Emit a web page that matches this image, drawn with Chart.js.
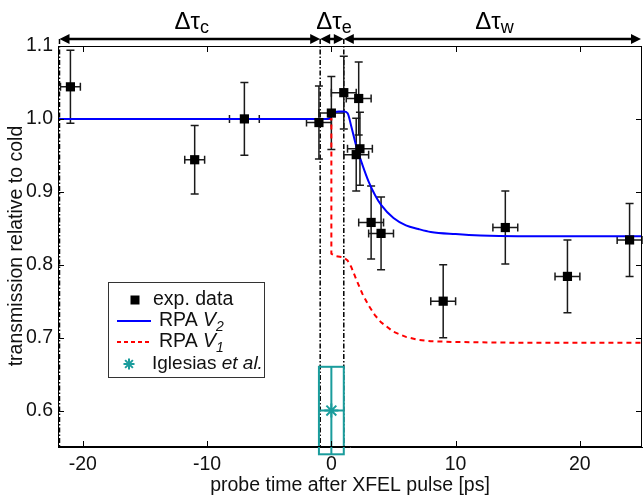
<!DOCTYPE html>
<html>
<head>
<meta charset="utf-8">
<script src="https://cdn.jsdelivr.net/npm/chart.js@4.4.1/dist/chart.umd.min.js"></script>
<style>
html, body { margin: 0; padding: 0; background: #fff; overflow: hidden; }
#chart { display: block; }
</style>
</head>
<body>
<canvas id="chart" width="644" height="498"></canvas>
<script>
// dati sperimentali: tempo [ps], trasmissione, errori
const expTime      = [-21, -11, -7, -1, 0, 1.0, 2.2, 2.3, 2.0, 3.2, 4.0, 9, 14, 19, 24];
const expTrans     = [1.044, 0.944, 1.0, 0.995, 1.008, 1.036, 1.028, 0.959, 0.951, 0.858, 0.843, 0.75, 0.851, 0.784, 0.834];
const expTimeErr   = [0.8, 0.8, 1.2, 1.0, 1.0, 1.0, 1.0, 1.0, 1.0, 1.0, 1.0, 1.0, 1.0, 1.0, 1.0];
const expTransErr  = [0.05, 0.047, 0.05, 0.05, 0.05, 0.05, 0.05, 0.05, 0.05, 0.05, 0.05, 0.05, 0.05, 0.05, 0.05];

// curva RPA V2 (blu)
const rpaV2Time  = [-22, -0.3, 0, 0.3, 0.6, 1.0, 1.3, 1.6, 2.0, 2.5, 3.0, 3.5, 4.0, 5.0, 6.0, 7.0, 8.0, 10, 12, 15, 20, 25];
const rpaV2Trans = [1.0, 1.0, 1.004, 1.009, 1.01, 1.01, 1.008, 0.99, 0.963, 0.937, 0.914, 0.896, 0.882, 0.864, 0.854, 0.849, 0.845, 0.842, 0.84, 0.839, 0.839, 0.839];

// curva RPA V1 (rossa tratteggiata)
const rpaV1Time  = [-22, 0, 0, 0.3, 1.0, 1.3, 1.6, 2.0, 2.5, 3.0, 3.5, 4.0, 5.0, 6.0, 7.0, 8.0, 10, 15, 25];
const rpaV1Trans = [1.0, 1.0, 0.815, 0.812, 0.81, 0.806, 0.797, 0.78, 0.76, 0.744, 0.731, 0.721, 0.708, 0.701, 0.697, 0.695, 0.694, 0.693, 0.693];

// Iglesias et al.
const iglTime = [0];
const iglTrans = [0.6];
const iglTimeErr = [1.0];
const iglTransErr = [0.06];

const xTicks = [-20, -10, 0, 10, 20];
const yTicks = [0.6, 0.7, 0.8, 0.9, 1.0, 1.1];

// confini delle fasi (linee tratto-punto) e nomi
const phaseBounds = [-22, -0.9, 1.0, 25];
const phaseSubs = ['c', 'e', 'w'];

const FONT = '"Liberation Sans", Arial, Helvetica, sans-serif';
const TEAL = '#1a9c9c';
const noPad = () => ({left: 0, top: 0, right: 0, bottom: 0});

function toXY(xs, ys) {
    return xs.map((v, i) => ({x: v, y: ys[i]}));
}

// barre d'errore e box Iglesias
const errorBars = {
    id: 'errorBars',
    beforeDatasetsDraw(chart) {
        const {ctx, scales: {x, y}, chartArea} = chart;
        ctx.save();
        // linee verticali tratto-punto
        ctx.strokeStyle = '#000';
        ctx.lineWidth = 1.5;
        ctx.setLineDash([5, 2, 1.5, 2]);
        phaseBounds.forEach((b) => {
            let px = x.getPixelForValue(b);
            if (b === phaseBounds[0]) px += 1.5;
            if (b === phaseBounds[phaseBounds.length - 1]) return;
            ctx.beginPath();
            ctx.moveTo(px, 39);
            ctx.lineTo(px, chartArea.bottom);
            ctx.stroke();
        });
        ctx.setLineDash([]);

        ctx.strokeStyle = '#1a1a1a';
        ctx.lineWidth = 1.5;
        expTime.forEach((t, i) => {
            const px = x.getPixelForValue(t);
            const py = y.getPixelForValue(expTrans[i]);
            const x0 = x.getPixelForValue(t - expTimeErr[i]);
            const x1 = x.getPixelForValue(t + expTimeErr[i]);
            const y0 = y.getPixelForValue(expTrans[i] - expTransErr[i]);
            const y1 = y.getPixelForValue(expTrans[i] + expTransErr[i]);
            ctx.beginPath();
            ctx.moveTo(px, y0); ctx.lineTo(px, y1);
            ctx.moveTo(px - 4, y0); ctx.lineTo(px + 4, y0);
            ctx.moveTo(px - 4, y1); ctx.lineTo(px + 4, y1);
            ctx.moveTo(x0, py); ctx.lineTo(x1, py);
            ctx.moveTo(x0, py - 4); ctx.lineTo(x0, py + 4);
            ctx.moveTo(x1, py - 4); ctx.lineTo(x1, py + 4);
            ctx.stroke();
        });

        // box Iglesias
        ctx.strokeStyle = TEAL;
        ctx.lineWidth = 2;
        iglTime.forEach((t, i) => {
            const x0 = x.getPixelForValue(t - iglTimeErr[i]);
            const x1 = x.getPixelForValue(t + iglTimeErr[i]);
            const y0 = y.getPixelForValue(iglTrans[i] - iglTransErr[i]);
            const y1 = y.getPixelForValue(iglTrans[i] + iglTransErr[i]);
            const px = x.getPixelForValue(t);
            const py = y.getPixelForValue(iglTrans[i]);
            ctx.strokeRect(x0, y1, x1 - x0, y0 - y1);
            ctx.beginPath();
            ctx.moveTo(px, y0); ctx.lineTo(px, y1);
            ctx.moveTo(x0, py); ctx.lineTo(x1, py);
            ctx.stroke();
        });
        ctx.restore();
    }
};

function arrowHead(ctx, x, y, dir) {
    // dir = +1 punta a destra, -1 a sinistra
    ctx.beginPath();
    ctx.moveTo(x, y);
    ctx.lineTo(x - dir * 10, y - 5);
    ctx.lineTo(x - dir * 10, y + 5);
    ctx.closePath();
    ctx.fill();
}

// cornice, tacche interne, frecce, titoli, legenda
const decorations = {
    id: 'decorations',
    afterDraw(chart) {
        const {ctx, scales: {x, y}, chartArea: a} = chart;
        ctx.save();
        ctx.strokeStyle = '#000';
        ctx.lineWidth = 1;
        ctx.strokeRect(a.left + 0.5, a.top + 0.5, a.width - 1, a.height - 1);
        ctx.beginPath();
        xTicks.forEach((v) => {
            const px = Math.round(x.getPixelForValue(v)) + 0.5;
            ctx.moveTo(px, a.bottom); ctx.lineTo(px, a.bottom - 6);
            ctx.moveTo(px, a.top); ctx.lineTo(px, a.top + 6);
        });
        yTicks.forEach((v) => {
            const py = Math.round(y.getPixelForValue(v)) + 0.5;
            ctx.moveTo(a.left, py); ctx.lineTo(a.left + 6, py);
            ctx.moveTo(a.right, py); ctx.lineTo(a.right - 6, py);
        });
        ctx.stroke();

        // frecce delle fasi
        const ay = 39;
        ctx.fillStyle = '#000';
        ctx.lineWidth = 2.5;
        for (let i = 0; i < phaseSubs.length; i++) {
            const l = x.getPixelForValue(phaseBounds[i]) + (i === 0 ? 1.5 : 0);
            const r = x.getPixelForValue(phaseBounds[i + 1]) - (i === phaseSubs.length - 1 ? 1 : 0);
            ctx.beginPath();
            ctx.moveTo(l + 6, ay); ctx.lineTo(r - 6, ay);
            ctx.stroke();
            arrowHead(ctx, l, ay, -1);
            arrowHead(ctx, r, ay, 1);

            const big = '24px ' + FONT, small = '18px ' + FONT;
            ctx.font = big;
            const w1 = ctx.measureText('\u0394\u03c4').width;
            ctx.font = small;
            const w2 = ctx.measureText(phaseSubs[i]).width;
            const cx = (l + r) / 2 + 2;
            const sx = cx - (w1 + w2) / 2;
            ctx.textBaseline = 'alphabetic';
            ctx.textAlign = 'left';
            ctx.font = big;
            ctx.fillText('\u0394\u03c4', sx, 29);
            ctx.font = small;
            ctx.fillText(phaseSubs[i], sx + w1, 33);
        }

        // titoli degli assi
        ctx.fillStyle = '#111';
        ctx.font = '19.5px ' + FONT;
        ctx.textAlign = 'center';
        ctx.textBaseline = 'middle';
        ctx.fillText('probe time after XFEL pulse [ps]', 350, 486);
        ctx.save();
        ctx.translate(17, 246);
        ctx.rotate(-Math.PI / 2);
        ctx.fillText('transmission relative to cold', 0, 0);
        ctx.restore();

        // legenda
        const lx = 108, ly = 282, lw = 156, lh = 95;
        ctx.fillStyle = '#fff';
        ctx.fillRect(lx, ly, lw, lh);
        ctx.strokeStyle = '#333';
        ctx.lineWidth = 1;
        ctx.strokeRect(lx + 0.5, ly + 0.5, lw, lh);
        const rows = [300, 321, 342, 364];
        ctx.fillStyle = '#000';
        ctx.fillRect(130.5, rows[0] - 4.5, 9, 9);
        ctx.strokeStyle = '#0000ff';
        ctx.lineWidth = 2;
        ctx.beginPath(); ctx.moveTo(117, rows[1]); ctx.lineTo(151, rows[1]); ctx.stroke();
        ctx.strokeStyle = '#ff0000';
        ctx.setLineDash([4, 3]);
        ctx.beginPath(); ctx.moveTo(117, rows[2]); ctx.lineTo(151, rows[2]); ctx.stroke();
        ctx.setLineDash([]);
        ctx.strokeStyle = TEAL;
        ctx.lineWidth = 2;
        ctx.beginPath();
        const sx = 129, sy = rows[3], sr = 5.5;
        for (let k = 0; k < 4; k++) {
            const ang = k * Math.PI / 4;
            ctx.moveTo(sx - sr * Math.cos(ang), sy - sr * Math.sin(ang));
            ctx.lineTo(sx + sr * Math.cos(ang), sy + sr * Math.sin(ang));
        }
        ctx.stroke();

        ctx.fillStyle = '#111';
        ctx.textAlign = 'left';
        ctx.textBaseline = 'middle';
        const norm = '19.5px ' + FONT, ital = 'italic 19.5px ' + FONT, subI = 'italic 14px ' + FONT;
        ctx.font = norm;
        ctx.fillText('exp. data', 153, rows[0]);
        const drawRpa = (row, sub) => {
            ctx.font = norm;
            ctx.fillText('RPA ', 159, row);
            let px = 159 + ctx.measureText('RPA ').width;
            ctx.font = ital;
            ctx.fillText('V', px, row);
            px += ctx.measureText('V').width;
            ctx.font = subI;
            ctx.fillText(sub, px, row + 6);
        };
        drawRpa(rows[1], '2');
        drawRpa(rows[2], '1');
        ctx.font = '19px ' + FONT;
        ctx.fillText('Iglesias', 152, rows[3]);
        const ix = 152 + ctx.measureText('Iglesias ').width;
        ctx.font = 'italic 19px ' + FONT;
        ctx.fillText('et al.', ix, rows[3]);
        ctx.restore();
    }
};

const ctx = document.getElementById('chart');
new Chart(ctx, {
    type: 'scatter',
    data: {
        datasets: [
            {
                label: 'exp. data',
                data: toXY(expTime, expTrans),
                pointStyle: 'rect',
                pointRadius: 6.5,
                backgroundColor: '#000',
                borderColor: '#000',
                borderWidth: 0,
                order: 0
            },
            {
                label: 'Iglesias et al.',
                data: toXY(iglTime, iglTrans),
                pointStyle: 'star',
                pointRadius: 7,
                borderColor: TEAL,
                backgroundColor: TEAL,
                borderWidth: 2,
                order: 1
            },
            {
                label: 'RPA V2',
                data: toXY(rpaV2Time, rpaV2Trans),
                showLine: true,
                pointRadius: 0,
                borderColor: '#0000ff',
                borderWidth: 2,
                cubicInterpolationMode: 'monotone',
                order: 2
            },
            {
                label: 'RPA V1',
                data: toXY(rpaV1Time, rpaV1Trans),
                showLine: true,
                pointRadius: 0,
                borderColor: '#ff0000',
                borderWidth: 2,
                borderDash: [5, 4],
                order: 3
            }
        ]
    },
    options: {
        responsive: false,
        animation: false,
        layout: { autoPadding: false, padding: { top: 46, right: 2, left: 0, bottom: 0 } },
        plugins: {
            legend: { display: false },
            tooltip: { enabled: false }
        },
        scales: {
            x: {
                type: 'linear',
                min: -22,
                max: 25,
                afterBuildTicks: (s) => { s.ticks = xTicks.map(v => ({value: v})); },
                afterFit: (s) => { s.height = 51; s.getPadding = noPad; },
                grid: { display: true, drawOnChartArea: false, drawTicks: false },
                border: { display: true, color: '#000' },
                ticks: {
                    padding: 6,
                    color: '#111',
                    font: { family: FONT, size: 19.5 },
                    maxRotation: 0
                }
            },
            y: {
                type: 'linear',
                min: 0.55,
                max: 1.1,
                afterBuildTicks: (s) => { s.ticks = yTicks.map(v => ({value: v})); },
                afterFit: (s) => { s.width = 58; s.getPadding = noPad; },
                grid: { display: true, drawOnChartArea: false, drawTicks: false },
                border: { display: true, color: '#000' },
                ticks: {
                    padding: 5,
                    color: '#111',
                    font: { family: FONT, size: 19.5 },
                    callback: (v) => v.toFixed(1)
                }
            }
        }
    },
    plugins: [errorBars, decorations]
});
</script>
</body>
</html>
